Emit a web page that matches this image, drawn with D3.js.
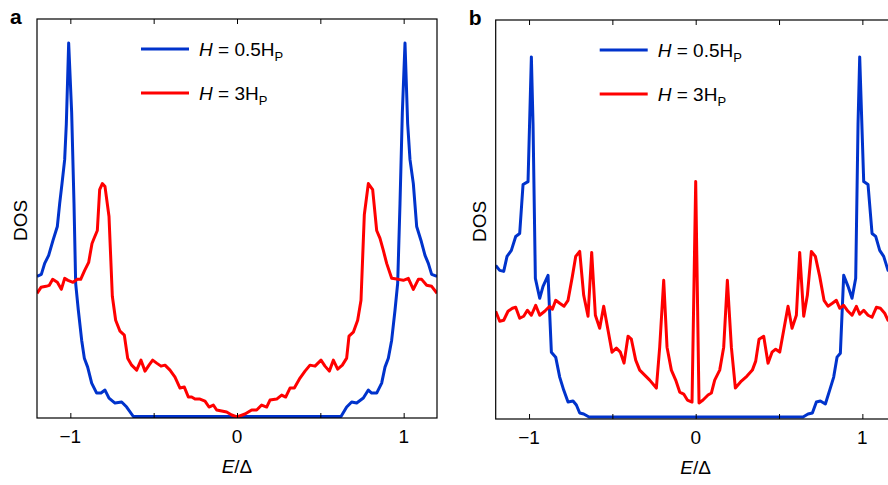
<!DOCTYPE html>
<meta charset="utf-8">
<style>
    body { margin: 0; background: #fff; }
    text { font-family: "Liberation Sans", Arial, sans-serif; fill: #000; }
    .axis line, .axis path { stroke: #000; }
</style>
<svg width="888" height="485"></svg>
<script src="https://cdn.jsdelivr.net/npm/d3@7"></script>
<script>

// ---- data (E/Δ, DOS in arbitrary units) ----
var xTicks = [-1, -0.5, 0, 0.5, 1];
var xTickLabels = {"-1": "\u22121", "0": "0", "1": "1"};
var legendLabels = ["0.5", "3"];

// panel a, H = 0.5 Hp
var aBlueE = [-1.2, -1.174, -1.154, -1.13, -1.104, -1.078, -1.064, -1.05, -1.034, -1.024, -1.01, -0.992, -0.978, -0.968, -0.952, -0.932, -0.916, -0.896, -0.872, -0.842, -0.816, -0.792, -0.768, -0.732, -0.692, -0.662, -0.622,
    0.624, 0.658, 0.688, 0.718, 0.758, 0.788, 0.808, 0.838, 0.868, 0.888, 0.908, 0.928, 0.948, 0.964, 0.978, 0.992, 1.008, 1.024, 1.038, 1.058, 1.078, 1.104, 1.128, 1.148, 1.168, 1.2];
var aBlueDOS = [1.42, 1.44, 1.55, 1.63, 1.78, 1.92, 2.15, 2.35, 2.59, 2.95, 3.76, 3.06, 2.15, 1.35, 1.08, 0.78, 0.60, 0.51, 0.35, 0.25, 0.25, 0.28, 0.20, 0.15, 0.16, 0.11, 0.015,
    0.015, 0.11, 0.16, 0.15, 0.20, 0.28, 0.25, 0.25, 0.35, 0.51, 0.60, 0.78, 1.08, 1.35, 2.15, 3.06, 3.76, 2.95, 2.59, 2.35, 1.92, 1.78, 1.63, 1.55, 1.44, 1.42];

// panel a, H = 3 Hp
var aRedE = [-1.2, -1.176, -1.146, -1.126, -1.106, -1.078, -1.054, -1.034, -1.014, -0.984, -0.958, -0.938, -0.914, -0.89, -0.87, -0.858, -0.838, -0.824, -0.808, -0.792, -0.768, -0.748, -0.728, -0.702, -0.676, -0.656, -0.632, -0.602, -0.576, -0.552, -0.528, -0.506, -0.482, -0.456, -0.432, -0.402, -0.372, -0.342, -0.316, -0.292, -0.272, -0.252, -0.222, -0.192, -0.168, -0.142, -0.122, -0.092, -0.062, -0.032, 0,
    0.048, 0.088, 0.118, 0.148, 0.178, 0.198, 0.238, 0.268, 0.292, 0.318, 0.344, 0.378, 0.408, 0.438, 0.468, 0.504, 0.528, 0.554, 0.578, 0.604, 0.632, 0.658, 0.672, 0.698, 0.724, 0.744, 0.764, 0.788, 0.814, 0.838, 0.858, 0.878, 0.898, 0.928, 0.968, 0.998, 1.028, 1.058, 1.088, 1.108, 1.138, 1.168, 1.2];
var aRedDOS = [1.25, 1.31, 1.32, 1.33, 1.39, 1.36, 1.29, 1.40, 1.38, 1.36, 1.39, 1.39, 1.48, 1.56, 1.75, 1.80, 1.88, 2.29, 2.35, 2.32, 2.02, 1.22, 0.98, 0.87, 0.83, 0.60, 0.53, 0.48, 0.58, 0.47, 0.53, 0.58, 0.55, 0.52, 0.53, 0.48, 0.41, 0.30, 0.31, 0.21, 0.21, 0.19, 0.19, 0.17, 0.11, 0.13, 0.08, 0.07, 0.06, 0.03, 0.01,
    0.04, 0.08, 0.08, 0.13, 0.11, 0.18, 0.19, 0.23, 0.21, 0.30, 0.30, 0.40, 0.47, 0.53, 0.52, 0.58, 0.52, 0.47, 0.58, 0.49, 0.53, 0.60, 0.82, 0.86, 0.98, 1.18, 2.04, 2.35, 2.29, 1.88, 1.80, 1.68, 1.55, 1.40, 1.39, 1.38, 1.40, 1.29, 1.39, 1.39, 1.33, 1.32, 1.25];

// panel b, H = 0.5 Hp
var bBlueE = [-1.2, -1.176, -1.152, -1.132, -1.106, -1.08, -1.056, -1.036, -1.006, -0.986, -0.976, -0.962, -0.936, -0.916, -0.886, -0.866, -0.84, -0.816, -0.792, -0.766, -0.736, -0.716, -0.696, -0.672, -0.64,
    0.644, 0.674, 0.7, 0.724, 0.748, 0.778, 0.804, 0.828, 0.848, 0.868, 0.888, 0.914, 0.938, 0.96, 0.974, 0.984, 1.008, 1.034, 1.058, 1.08, 1.104, 1.128, 1.154, 1.176, 1.2];
var bBlueDOS = [1.54, 1.49, 1.48, 1.63, 1.69, 1.83, 1.86, 2.35, 2.38, 3.63, 2.96, 1.41, 1.21, 1.33, 1.44, 0.67, 0.62, 0.42, 0.29, 0.17, 0.18, 0.14, 0.06, 0.05, 0.02,
    0.02, 0.05, 0.06, 0.17, 0.18, 0.15, 0.29, 0.42, 0.62, 0.66, 1.44, 1.33, 1.21, 1.41, 2.96, 3.63, 2.38, 2.35, 1.86, 1.83, 1.69, 1.63, 1.49, 1.48, 1.54];

// panel b, H = 3 Hp
var bRedE = [-1.2, -1.176, -1.152, -1.126, -1.1, -1.08, -1.056, -1.032, -1.01, -0.986, -0.96, -0.936, -0.906, -0.876, -0.86, -0.84, -0.816, -0.79, -0.766, -0.74, -0.72, -0.696, -0.672, -0.646, -0.624, -0.602, -0.576, -0.552, -0.526, -0.502, -0.476, -0.452, -0.43, -0.406, -0.386, -0.36, -0.336, -0.306, -0.276, -0.236, -0.216, -0.192, -0.172, -0.146, -0.12, -0.096, -0.072, -0.05, -0.022, 0,
    0.02, 0.044, 0.074, 0.094, 0.114, 0.144, 0.168, 0.19, 0.214, 0.238, 0.274, 0.308, 0.34, 0.36, 0.38, 0.408, 0.434, 0.458, 0.48, 0.504, 0.528, 0.554, 0.578, 0.604, 0.624, 0.648, 0.67, 0.694, 0.718, 0.744, 0.77, 0.794, 0.82, 0.844, 0.864, 0.888, 0.914, 0.938, 0.964, 0.984, 1.008, 1.034, 1.058, 1.084, 1.108, 1.134, 1.154, 1.176, 1.2];
var bRedDOS = [1.08, 0.98, 0.99, 1.08, 1.11, 1.12, 1.01, 1.03, 1.09, 1.04, 1.14, 1.04, 1.08, 1.13, 1.10, 1.19, 1.16, 1.13, 1.19, 1.43, 1.63, 1.68, 1.24, 1.03, 1.67, 1.04, 0.91, 1.13, 0.89, 0.67, 0.71, 0.67, 0.56, 0.83, 0.80, 0.59, 0.49, 0.44, 0.39, 0.31, 0.72, 1.39, 0.72, 0.49, 0.39, 0.27, 0.25, 0.19, 0.17, 2.38,
    0.16, 0.19, 0.24, 0.26, 0.39, 0.49, 0.72, 1.39, 0.72, 0.31, 0.38, 0.43, 0.49, 0.58, 0.80, 0.83, 0.56, 0.67, 0.70, 0.67, 0.89, 1.13, 0.91, 1.04, 1.67, 1.03, 1.24, 1.68, 1.63, 1.43, 1.19, 1.13, 1.16, 1.19, 1.11, 1.14, 1.08, 1.04, 1.13, 1.05, 1.09, 1.04, 1.02, 1.12, 1.11, 1.06, 0.99, 0.98, 1.08];

var blue = "#0033cc", red = "#ff0000";

var svg = d3.select("svg");

function zip(xs, ys) { return xs.map(function(x, i) { return [x, ys[i]]; }); }

function drawPanel(id, left, top, letter, blueData, redData) {
    var w = 400, h = 399;
    var x = d3.scaleLinear().domain([-1.2, 1.2]).range([0, w]);
    var y = d3.scaleLinear().domain([0, 4]).range([h, 0]);

    var g = svg.append("g").attr("transform", "translate(" + left + "," + top + ")");

    g.append("clipPath").attr("id", "clip" + id)
        .append("rect").attr("width", w).attr("height", h);

    var line = d3.line()
        .x(function(d) { return x(d[0]); })
        .y(function(d) { return y(d[1]); });

    var plot = g.append("g").attr("clip-path", "url(#clip" + id + ")");
    plot.append("path").datum(blueData)
        .attr("fill", "none").attr("stroke", blue).attr("stroke-width", 3)
        .attr("stroke-linejoin", "round").attr("d", line);
    plot.append("path").datum(redData)
        .attr("fill", "none").attr("stroke", red).attr("stroke-width", 3)
        .attr("stroke-linejoin", "round").attr("d", line);

    // frame
    g.append("rect").attr("width", w).attr("height", h)
        .attr("fill", "none").attr("stroke", "#000").attr("stroke-width", 1.2);

    // ticks, inward on bottom and top
    var bottom = g.append("g").attr("class", "axis")
        .attr("transform", "translate(0," + h + ")")
        .call(d3.axisTop(x).tickValues(xTicks).tickSize(5).tickFormat(""));
    bottom.select(".domain").remove();
    var topAx = g.append("g").attr("class", "axis")
        .call(d3.axisBottom(x).tickValues(xTicks).tickSize(5).tickFormat(""));
    topAx.select(".domain").remove();

    g.selectAll(".ticklabel").data([-1, 0, 1]).enter().append("text")
        .attr("x", function(d) { return x(d); })
        .attr("y", h + 25)
        .attr("text-anchor", "middle")
        .attr("font-size", 19)
        .text(function(d) { return xTickLabels[String(d)]; });

    // x label
    var xl = g.append("text").attr("x", x(0)).attr("y", h + 55)
        .attr("text-anchor", "middle").attr("font-size", 19);
    xl.append("tspan").attr("font-style", "italic").text("E");
    xl.append("tspan").text("/\u0394");

    // y label
    g.append("text")
        .attr("transform", "translate(" + (-10) + "," + (h / 2 + 2) + ") rotate(-90)")
        .attr("text-anchor", "middle").attr("font-size", 19)
        .text("DOS");

    // panel letter
    g.append("text").attr("x", -27).attr("y", 5)
        .attr("font-size", 21).attr("font-weight", "bold").text(letter);

    // legend
    var colors = [blue, red];
    legendLabels.forEach(function(lab, i) {
        var ly = 30 + i * 44;
        g.append("line").attr("x1", 104).attr("x2", 152)
            .attr("y1", ly).attr("y2", ly)
            .attr("stroke", colors[i]).attr("stroke-width", 3);
        var t = g.append("text").attr("x", 162).attr("y", ly + 6.5).attr("font-size", 19);
        t.append("tspan").attr("font-style", "italic").text("H");
        t.append("tspan").text(" = " + lab + "H");
        t.append("tspan").attr("font-size", 13).attr("dy", 5).text("P");
    });
}

drawPanel("a", 37, 19, "a", zip(aBlueE, aBlueDOS), zip(aRedE, aRedDOS));
drawPanel("b", 495.7, 20, "b", zip(bBlueE, bBlueDOS), zip(bRedE, bRedDOS));

</script>
